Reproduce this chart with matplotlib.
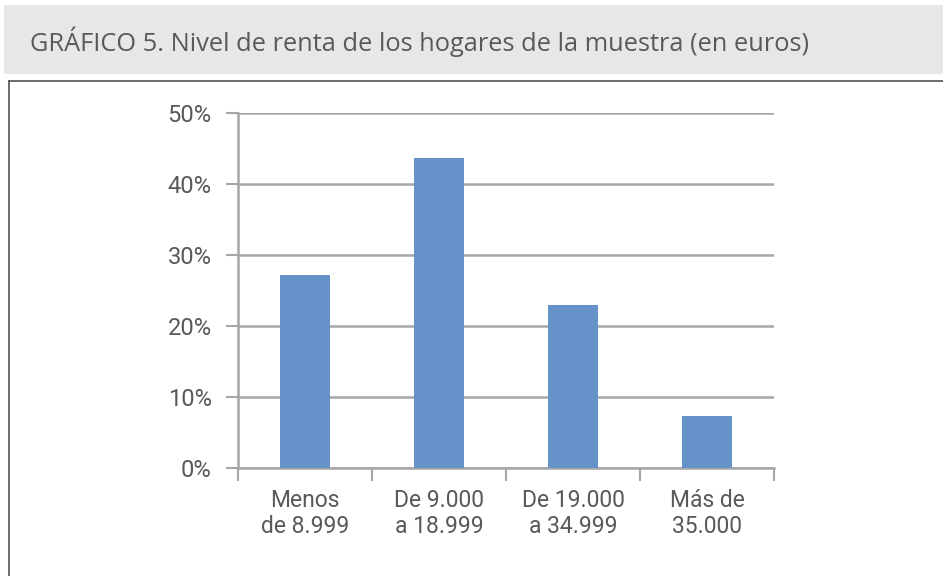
import matplotlib.pyplot as plt
from matplotlib.patches import Rectangle
from matplotlib.lines import Line2D

categories = ["Menos\nde 8.999", "De 9.000\na 18.999", "De 19.000\na 34.999", "Más de\n35.000"]
values = [27.2, 43.6, 22.9, 7.3]
yticks = [0, 10, 20, 30, 40, 50]
title = "GRÁFICO 5. Nivel de renta de los hogares de la muestra (en euros)"

plt.rcParams["font.family"] = ["Roboto", "DejaVu Sans"]
text_col = "#595959"
grid_col = "#a6a6a6"
bar_col = "#6592c8"

W, H = 943, 576
fig = plt.figure(figsize=(W / 100, H / 100), dpi=100)
fig.patch.set_facecolor("white")

# title band
fig.patches.append(Rectangle((4 / W, 1 - 74 / H), 1, 69 / H, transform=fig.transFigure,
                             facecolor="#e6e7e8", edgecolor="none", zorder=0))
fig.text(30 / W, 1 - 42 / H, title, fontsize=18.3, color=text_col, va="center", ha="left",
         family=["Open Sans", "DejaVu Sans"])

# frame around the chart
fig.add_artist(Line2D([8.5 / W, 8.5 / W], [0, 1 - 81 / H], transform=fig.transFigure,
                      color="#606060", lw=1.3))
fig.add_artist(Line2D([8.5 / W, 1], [1 - 81 / H, 1 - 81 / H], transform=fig.transFigure,
                      color="#606060", lw=1.3))

ax = fig.add_axes([238 / W, 1 - 468 / H, (774 - 238) / W, (468 - 113) / H])
x = range(len(categories))
ax.bar(x, values, width=0.38, color=bar_col, zorder=3)
ax.set_xlim(-0.5, len(categories) - 0.5)
ax.set_ylim(0, 50)

ax.set_yticks(yticks)
ax.set_yticklabels([f"{t}%" for t in yticks])
ax.yaxis.grid(True, color=grid_col, lw=1.8)
ax.set_axisbelow(True)

ax.set_xticks([i - 0.5 for i in range(len(categories) + 1)])
ax.set_xticklabels([])
ax.set_xticks(list(x), minor=True)
ax.set_xticklabels(categories, minor=True, fontsize=16.5, color=text_col, linespacing=1.2)
ax.tick_params(axis="x", which="minor", length=0, pad=15)
ax.tick_params(axis="x", which="major", length=9, width=1.5, color=grid_col, direction="out")
ax.tick_params(axis="y", length=9, width=1.5, color=grid_col, labelsize=17,
               labelcolor=text_col, pad=10)

for s in ["top", "right"]:
    ax.spines[s].set_visible(False)
for s in ["left", "bottom"]:
    ax.spines[s].set_color(grid_col)
    ax.spines[s].set_linewidth(1.8)

fig.savefig("out.png", dpi=100)
